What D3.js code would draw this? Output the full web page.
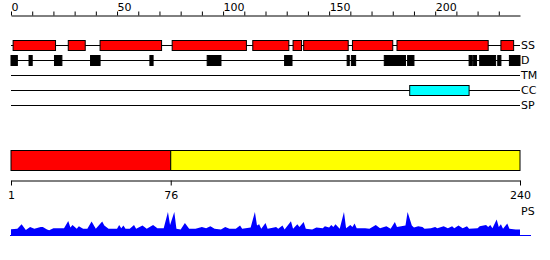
<!DOCTYPE html>
<html>
<head>
<title>Protein features</title>
<style>
  body { margin: 0; background: #fff; }
  svg text { font-family: "DejaVu Sans", sans-serif; font-size: 11px; }
</style>
</head>
<body>
<div id="my_dataviz"></div>
<script src="https://d3js.org/d3.v7.min.js"></script>
<script>

// sequence length and feature tracks (residue start, end)
var seqLength = 240;
var trackNames = ["SS", "D", "TM", "CC", "SP"];
var ssSegments = [[1, 21], [27, 35], [42, 71], [76, 111], [114, 131], [133, 137],
                  [138, 159], [161, 180], [182, 225], [231, 237]];
var disorderSegments = [[0, 3], [8.5, 10], [20.5, 24], [37.5, 42], [65.5, 67], [92.5, 99],
                        [129, 132.5], [158.5, 159.5], [160.5, 162.5], [176, 186], [187, 190],
                        [216, 217.5], [218, 219.5], [221, 228.5], [229.5, 231], [235, 240]];
var tmSegments = [];
var ccSegments = [[188, 216]];
var spSegments = [];

// domain bar and its tick labels
var domains = [{start: 1, end: 76, color: "#ff0000"}, {start: 76, end: 240, color: "#ffff00"}];
var domainTicks = [1, 76, 240];

// PS profile: residue, score (0..1)
var psResidues = [0, 3, 5, 7, 9, 11, 14, 15, 17, 18, 20, 25, 27, 28, 29, 31, 32, 34, 36, 38,
  40, 43, 44, 46, 50, 51, 52, 53, 54, 56, 58, 59, 62, 64, 67, 69, 72, 74, 75, 77,
  78, 80, 82, 84, 87, 90, 92, 94, 96, 99, 101, 103, 106, 108, 109, 113, 115, 116, 117, 118,
  120, 121, 124, 125, 126, 128, 129, 132, 133, 135, 136, 138, 139, 142, 144, 147, 148, 150, 151, 152,
  153, 155, 157, 158, 160, 161, 162, 163, 167, 169, 172, 174, 177, 179, 181, 182, 184, 186, 187, 189,
  190, 192, 194, 195, 198, 200, 201, 204, 206, 208, 209, 211, 213, 215, 216, 220, 221, 224, 225, 226,
  227, 229, 230, 231, 232, 234, 235, 238, 240];
var psScores = [0.28, 0.30, 0.49, 0.25, 0.38, 0.30, 0.38, 0.38, 0.27, 0.24, 0.32, 0.32, 0.63, 0.35, 0.46, 0.30, 0.41, 0.30, 0.30, 0.60,
  0.30, 0.60, 0.44, 0.30, 0.30, 0.46, 0.32, 0.44, 0.30, 0.30, 0.46, 0.30, 0.44, 0.30, 0.46, 0.32, 0.32, 1.00, 0.46, 1.00,
  0.30, 0.27, 0.54, 0.30, 0.30, 0.38, 0.32, 0.41, 0.30, 0.27, 0.38, 0.30, 0.30, 0.44, 0.30, 0.35, 1.00, 0.44, 0.49, 0.30,
  0.54, 0.30, 0.35, 0.38, 0.30, 0.44, 0.27, 0.61, 0.30, 0.49, 0.38, 0.58, 0.30, 0.27, 0.35, 0.32, 0.41, 0.35, 0.46, 0.38,
  0.49, 0.30, 1.00, 0.32, 0.46, 0.38, 0.52, 0.32, 0.32, 0.30, 0.46, 0.32, 0.41, 0.30, 0.58, 0.38, 0.41, 0.44, 1.00, 0.44,
  0.35, 0.41, 0.38, 0.30, 0.32, 0.38, 0.32, 0.41, 0.32, 0.41, 0.32, 0.44, 0.32, 0.41, 0.30, 0.32, 0.41, 0.46, 0.38, 0.46,
  0.32, 0.69, 0.38, 0.49, 0.30, 0.52, 0.30, 0.27, 0.27];

var width = 550, height = 260;

var svg = d3.select("#my_dataviz")
  .append("svg")
    .attr("width", width)
    .attr("height", height);

// scales
var x = d3.scaleLinear().domain([0, seqLength]).range([11, 520]);
var xDom = d3.scaleLinear().domain([1, seqLength]).range([11, 520]);
var yTrack = d3.scalePoint().domain(trackNames).range([45, 105]);
var yPS = d3.scaleLinear().domain([0, 1]).range([236, 212]);

// top ruler
var topAxis = d3.axisTop(x)
  .tickValues(d3.range(0, seqLength, 10))
  .tickFormat(function(d) { return d % 50 === 0 ? d : ""; })
  .tickSize(4)
  .tickSizeOuter(0)
  .tickPadding(1);
var gTop = svg.append("g")
  .attr("transform", "translate(0,15.5)")
  .call(topAxis);
gTop.selectAll("text").attr("text-anchor", "start").attr("x", 0).attr("fill", "#000");
gTop.selectAll("line, path").attr("stroke", "#000");
gTop.attr("font-family", null).attr("font-size", null);

// feature tracks
var trackData = {SS: ssSegments, D: disorderSegments, TM: tmSegments, CC: ccSegments, SP: spSegments};
var trackColor = {SS: "#ff0000", D: "#000000", TM: "#00ff00", CC: "#00ffff", SP: "#ff00ff"};

trackNames.forEach(function(name) {
  var yc = Math.round(yTrack(name)) + 0.5;
  var g = svg.append("g");
  g.append("line")
    .attr("x1", x(0)).attr("x2", x(seqLength))
    .attr("y1", yc).attr("y2", yc)
    .attr("stroke", "#000");
  g.selectAll("rect")
    .data(trackData[name])
    .enter()
    .append("rect")
      .attr("x", function(d) { return x(d[0]); })
      .attr("width", function(d) { return x(d[1]) - x(d[0]); })
      .attr("y", yc - 5)
      .attr("height", 10)
      .attr("fill", trackColor[name])
      .attr("stroke", "#000")
      .attr("stroke-width", 1);
  g.append("text")
    .attr("x", x(seqLength) + 1)
    .attr("y", yc)
    .attr("dy", "0.36em")
    .text(name);
});

// domain bar
svg.selectAll(".dom")
  .data(domains)
  .enter()
  .append("rect")
    .attr("class", "dom")
    .attr("x", function(d) { return xDom(d.start); })
    .attr("width", function(d) { return xDom(d.end) - xDom(d.start); })
    .attr("y", 150.5)
    .attr("height", 20)
    .attr("fill", function(d) { return d.color; })
    .attr("stroke", "#000");

var domAxis = d3.axisBottom(xDom)
  .tickValues(domainTicks)
  .tickSize(5)
  .tickSizeOuter(0)
  .tickPadding(6);
var gDom = svg.append("g")
  .attr("transform", "translate(0,180.5)")
  .call(domAxis);
gDom.selectAll("text").attr("fill", "#000");
gDom.selectAll("line, path").attr("stroke", "#000");
gDom.attr("font-family", null).attr("font-size", null);

// PS profile
var psData = psResidues.map(function(r, i) { return {r: r, v: psScores[i]}; });
svg.append("line")
  .attr("x1", 10).attr("x2", 531)
  .attr("y1", 235.5).attr("y2", 235.5)
  .attr("stroke", "#0000ff");
svg.append("path")
  .datum(psData)
  .attr("fill", "#0000ff")
  .attr("d", d3.area()
    .x(function(d) { return x(d.r); })
    .y0(yPS(0))
    .y1(function(d) { return yPS(d.v); }));
svg.append("text")
  .attr("x", x(seqLength) + 1)
  .attr("y", 215)
  .text("PS");

</script>
</body>
</html>
